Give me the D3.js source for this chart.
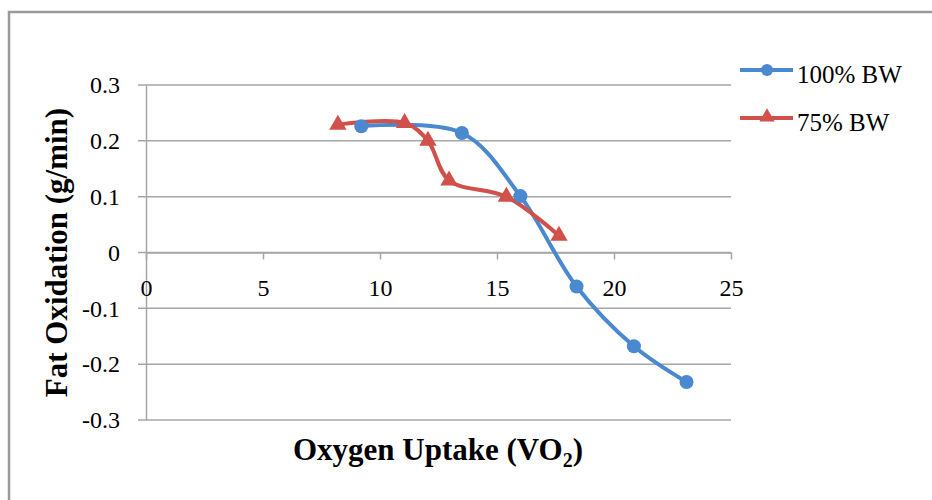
<!DOCTYPE html>
<html>
    <head>
        <meta charset="utf-8" />
        <script src="https://d3js.org/d3.v7.min.js"></script>
        <style>
            body { margin: 0; background: #fff; }
            text { font-family: "Liberation Serif", "Times New Roman", serif; fill: #000; }
        </style>
    </head>
    <body>
        <div id="canvas"></div>

        <script type="text/javascript">
            // data
            var seriesNames = ["100% BW", "75% BW"];
            var bw100X = [9.2, 13.5, 16.0, 18.4, 20.85, 23.1];
            var bw100Y = [0.226, 0.214, 0.101, -0.061, -0.168, -0.232];
            var bw75X = [8.2, 11.05, 12.05, 12.95, 15.4, 17.65];
            var bw75Y = [0.229, 0.232, 0.2, 0.129, 0.1, 0.03];
            var xTicks = [0, 5, 10, 15, 20, 25];
            var yTicks = [0.3, 0.2, 0.1, 0, -0.1, -0.2, -0.3];

            var svgWidth = 932;
            var svgHeight = 500;
            var blue = "#4a88cf";
            var red = "#d0504a";
            var gridColor = "#a6a6a6";

            var svg = d3.select("#canvas")
                        .append("svg")
                        .attr("width", svgWidth)
                        .attr("height", svgHeight);

            // frame (only top and left edges fall inside the picture)
            svg.append("path")
                .attr("d", "M9," + svgHeight + "V12H" + svgWidth)
                .attr("fill", "none")
                .attr("stroke", "#9a9a9a")
                .attr("stroke-width", 2.5);

            var x = d3.scaleLinear().domain([0, 25]).range([146, 731]);
            var y = d3.scaleLinear().domain([-0.3, 0.3]).range([420, 85]);

            // horizontal gridlines
            svg.append("g").selectAll("line")
                .data(yTicks)
                .enter()
                .append("line")
                .attr("x1", x(0) - 8)
                .attr("x2", x(25))
                .attr("y1", function(d){ return y(d); })
                .attr("y2", function(d){ return y(d); })
                .attr("stroke", gridColor)
                .attr("stroke-width", 1.5);

            // y axis
            var yAxis = svg.append("g")
                .attr("transform", "translate(" + x(0) + ",0)")
                .call(d3.axisLeft(y).tickValues(yTicks).tickSize(0).tickPadding(26)
                    .tickFormat(function(d){ return d === 0 ? "0" : d3.format(".1f")(d).replace("−", "-"); }));
            yAxis.select(".domain").attr("stroke", gridColor).attr("stroke-width", 1.5);
            yAxis.selectAll("text")
                .style("font-family", "Liberation Serif")
                .style("font-size", "24px")
                .attr("fill", "#000");

            // x axis on the zero line
            var xAxis = svg.append("g")
                .attr("transform", "translate(0," + y(0) + ")")
                .call(d3.axisBottom(x).tickValues(xTicks).tickSizeInner(7).tickSizeOuter(0).tickPadding(19));
            xAxis.select(".domain").attr("stroke", gridColor).attr("stroke-width", 1.5);
            xAxis.selectAll(".tick line").attr("stroke", gridColor).attr("stroke-width", 1.5);
            xAxis.selectAll("text")
                .style("font-family", "Liberation Serif")
                .style("font-size", "24px")
                .attr("fill", "#000");

            // axis titles
            svg.append("text")
                .attr("transform", "translate(67," + y(0) + ") rotate(-90)")
                .attr("text-anchor", "middle")
                .style("font-size", "31px")
                .style("font-weight", "bold")
                .text("Fat Oxidation (g/min)");

            var xt = svg.append("text")
                .attr("x", 438)
                .attr("y", 460)
                .attr("text-anchor", "middle")
                .style("font-size", "31px")
                .style("font-weight", "bold");
            xt.append("tspan").text("Oxygen Uptake (VO");
            xt.append("tspan").attr("dy", 7).style("font-size", "20px").text("2");
            xt.append("tspan").attr("dy", -7).text(")");

            // series
            var line = d3.line()
                .x(function(d){ return x(d[0]); })
                .y(function(d){ return y(d[1]); })
                .curve(d3.curveCatmullRom.alpha(0.5));

            var pts100 = d3.zip(bw100X, bw100Y);
            var pts75 = d3.zip(bw75X, bw75Y);

            svg.append("path")
                .attr("d", line(pts100))
                .attr("fill", "none")
                .attr("stroke", blue)
                .attr("stroke-width", 4);

            svg.append("path")
                .attr("d", line(pts75))
                .attr("fill", "none")
                .attr("stroke", red)
                .attr("stroke-width", 4);

            svg.append("g").selectAll("circle")
                .data(pts100)
                .enter()
                .append("circle")
                .attr("cx", function(d){ return x(d[0]); })
                .attr("cy", function(d){ return y(d[1]); })
                .attr("r", 7)
                .attr("fill", blue);

            var tri = d3.symbol().type(d3.symbolTriangle).size(130);
            svg.append("g").selectAll("path")
                .data(pts75)
                .enter()
                .append("path")
                .attr("d", tri)
                .attr("transform", function(d){ return "translate(" + x(d[0]) + "," + y(d[1]) + ")"; })
                .attr("fill", red);

            // legend
            var legend = svg.append("g");
            var legendY = [70, 118];
            var legendColor = [blue, red];
            seriesNames.forEach(function(name, i){
                legend.append("line")
                    .attr("x1", 740).attr("x2", 793)
                    .attr("y1", legendY[i]).attr("y2", legendY[i])
                    .attr("stroke", legendColor[i])
                    .attr("stroke-width", 4);
                if (i === 0) {
                    legend.append("circle")
                        .attr("cx", 767).attr("cy", legendY[i]).attr("r", 6)
                        .attr("fill", blue);
                } else {
                    legend.append("path")
                        .attr("d", d3.symbol().type(d3.symbolTriangle).size(100))
                        .attr("transform", "translate(767," + (legendY[i] - 1) + ")")
                        .attr("fill", red);
                }
                legend.append("text")
                    .attr("x", 797)
                    .attr("y", legendY[i] + 13)
                    .style("font-size", "25px")
                    .text(name);
            });
        </script>
    </body>
</html>
